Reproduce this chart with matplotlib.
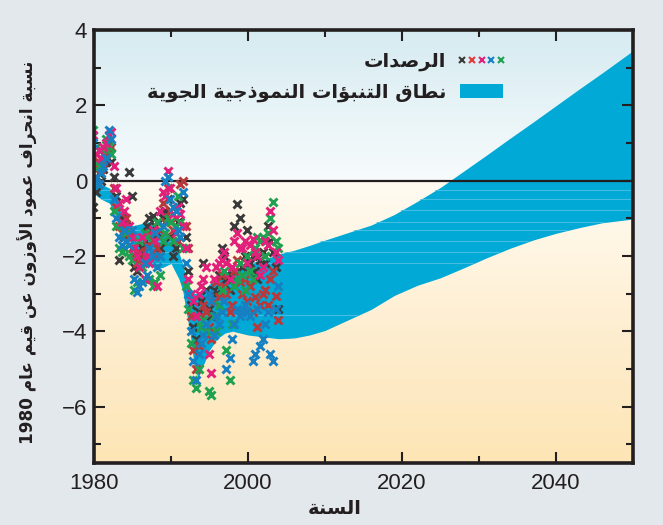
import re
import numpy as np
import matplotlib
matplotlib.use("Agg")
import matplotlib.pyplot as plt
from matplotlib.colors import LinearSegmentedColormap
from matplotlib.lines import Line2D
from matplotlib.patches import Patch
from matplotlib.legend_handler import HandlerTuple
from matplotlib.ticker import MultipleLocator

# text
ylabel_text = "نسبة انحراف عمود الأوزون عن قيم عام 1980"
xlabel_text = "السنة"
obs_label = "الرصدات"
band_label = "نطاق التنبؤات النموذجية الجوية"

# model range
band_years = [1980, 1981, 1982, 1983, 1984, 1985, 1986, 1987, 1988, 1989, 1990, 1991, 1991.5,
              1992, 1992.5, 1993, 1993.5, 1994, 1995, 1996, 1997, 1998, 1999, 2000, 2002, 2004,
              2006, 2008, 2010, 2013, 2016, 2019, 2022, 2025, 2028, 2031, 2034, 2037, 2040,
              2043, 2046, 2050]
band_high = [0.0, -0.1, -0.2, -0.5, -0.9, -1.2, -1.15, -1.1, -1.25, -1.4, -1.5, -1.9, -2.2,
             -2.6, -2.85, -3.0, -3.0, -2.95, -2.75, -2.6, -2.45, -2.35, -2.3, -2.2, -2.1, -1.95,
             -1.85, -1.72, -1.58, -1.38, -1.18, -0.9, -0.55, -0.18, 0.25, 0.68, 1.12, 1.55, 1.99,
             2.43, 2.86, 3.45]
band_low = [-0.35, -0.5, -0.6, -1.0, -1.4, -1.7, -2.0, -2.2, -2.35, -2.3, -2.2, -2.6, -2.9,
            -3.5, -4.1, -4.9, -5.25, -5.0, -4.5, -4.2, -4.05, -4.0, -4.05, -4.1, -4.15, -4.2,
            -4.18, -4.1, -3.98, -3.7, -3.42, -3.05, -2.78, -2.58, -2.32, -2.05, -1.8, -1.58, -1.4,
            -1.25, -1.12, -1.02]

# observations
obs_years = [1979.9, 1980.2, 1980.6, 1980.9, 1981.2, 1981.6, 1981.9, 1982.2, 1982.6, 1982.9,
             1983.2, 1983.6, 1983.9, 1984.2, 1984.6, 1984.9, 1985.2, 1985.6, 1985.9, 1986.2,
             1986.6, 1986.9, 1987.2, 1987.6, 1987.9, 1988.2, 1988.6, 1988.9, 1989.2, 1989.6,
             1989.9, 1990.2, 1990.6, 1990.9, 1991.2, 1991.6, 1991.9, 1992.2, 1992.6, 1992.9,
             1993.2, 1993.6, 1993.9, 1994.2, 1994.6, 1994.9, 1995.2, 1995.6, 1995.9, 1996.2,
             1996.6, 1996.9, 1997.2, 1997.6, 1997.9, 1998.2, 1998.6, 1998.9, 1999.2, 1999.6,
             1999.9, 2000.2, 2000.6, 2000.9, 2001.2, 2001.6, 2001.9, 2002.2, 2002.6, 2002.9,
             2003.2, 2003.6, 2003.9]
obs_black = [-0.7, -0.3, 0.2, 0.0, 0.3, 0.5, 0.8, 0.5, 0.1, -0.4,
             -2.1, -1.0, -1.5, -1.2, 0.24, -0.4, -2.3, -2.4, -2.0, -1.8,
             -1.6, -1.2, -1.0, -0.95, -1.2, -1.4, -1.8, -1.0, -0.8, -0.5,
             -1.5, -2.0, -1.8, -1.1, -0.6, -0.5, -1.5, -2.4, -3.3, -3.9,
             -4.2, -3.5, -3.2, -2.2, -2.9, -3.4, -3.6, -2.9, -3.0, -2.5,
             -1.8, -2.0, -2.6, -2.9, -2.5, -1.2, -0.63, -1.0, -2.3, -2.0,
             -1.3, -2.2, -2.0, -2.4, -2.6, -2.1, -1.9, -2.2, -1.2, -1.6,
             -1.9, -2.3, -3.4]
obs_red = [0.6, 0.3, 0.5, 0.3, 0.5, 0.7, 1.0, 0.9, -0.2, -0.7,
           -1.2, -1.4, -1.2, -1.0, -1.5, -1.8, -2.0, -2.2, -1.9, -2.1,
           -1.9, -1.7, -1.4, -1.6, -2.0, -1.8, -1.3, -0.6, -1.1, -0.2,
           -0.8, -1.3, -1.0, -1.6, -0.1, 0.0, -1.2, -1.8, -3.6, -4.5,
           -5.0, -4.4, -3.6, -3.3, -3.5, -3.9, -4.2, -3.2, -2.7, -3.1,
           -2.5, -2.8, -3.0, -3.5, -3.3, -2.4, -2.1, -2.7, -3.0, -2.6,
           -3.2, -2.8, -3.5, -3.1, -3.9, -3.3, -3.0, -2.9, -3.3, -2.6,
           -2.4, -3.07, -3.7]
obs_magenta = [1.2, 0.7, 0.8, 0.6, 0.9, 1.0, 1.2, 1.3, 0.4, -0.2,
               -0.6, -1.1, -0.8, -0.5, -1.2, -1.5, -1.8, -2.0, -2.3, -1.5,
               -2.6, -2.0, -2.2, -1.3, -1.6, -2.8, -0.8, -0.3, -0.4, 0.25,
               -0.2, -0.9, -1.4, -0.7, -0.9, -1.2, -1.8, -2.6, -3.0, -3.2,
               -3.6, -3.0, -2.8, -2.6, -2.3, -4.6, -5.1, -2.6, -2.3, -2.2,
               -2.1, -1.9, -2.2, -2.6, -2.3, -1.6, -1.4, -1.8, -1.8, -1.6,
               -2.2, -1.7, -1.55, -1.9, -2.0, -2.5, -2.3, -1.6, -1.7, -0.8,
               -1.3, -1.9, -2.1]
obs_blue = [1.0, 0.1, -0.1, 0.2, 0.4, 0.6, 1.35, 1.1, -0.5, -1.0,
            -1.5, -1.7, -1.3, -1.6, -1.7, -1.3, -2.6, -2.95, -2.8, -2.7,
            -2.2, -2.5, -1.8, -2.0, -1.4, -2.3, -2.0, -1.2, 0.0, 0.1,
            -0.5, -0.7, -0.8, -1.3, -1.5, -0.3, -2.2, -3.0, -4.0, -4.8,
            -5.3, -4.6, -4.3, -4.1, -3.8, -3.0, -3.2, -4.1, -3.6, -3.8,
            -3.5, -3.2, -5.0, -4.7, -4.2, -3.8, -3.4, -3.6, -3.5, -3.3,
            -3.5, -3.6, -4.8, -4.6, -3.4, -4.4, -4.2, -3.8, -3.5, -4.6,
            -4.8, -3.4, -2.8]
obs_green = [1.35, 0.9, 0.4, 0.8, 0.7, 1.1, 0.9, 0.7, -0.8, -1.2,
             -1.8, -1.9, -1.8, -1.4, -2.0, -2.1, -2.9, -2.7, -1.6, -2.3,
             -1.4, -1.5, -2.6, -2.8, -2.7, -1.1, -2.5, -1.6, -1.4, -1.0,
             -1.1, -1.6, -1.2, -0.4, -1.1, -1.8, -2.8, -3.4, -4.3, -5.3,
             -5.5, -5.0, -3.9, -3.7, -4.0, -5.6, -5.7, -3.6, -4.0, -3.3,
             -2.9, -2.4, -4.5, -5.3, -3.8, -2.8, -2.6, -2.2, -2.5, -2.9,
             -2.0, -2.4, -2.6, -1.8, -1.5, -1.6, -1.5, -2.0, -1.4, -1.0,
             -0.58, -1.6, -1.8]

# presentation forms: isolated, final, initial, medial
FORMS = {
    'ا': ('\uFE8D', '\uFE8E', None, None),
    'أ': ('\uFE83', '\uFE84', None, None),
    'ؤ': ('\uFE85', '\uFE86', None, None),
    'ب': ('\uFE8F', '\uFE90', '\uFE91', '\uFE92'),
    'ة': ('\uFE93', '\uFE94', None, None),
    'ت': ('\uFE95', '\uFE96', '\uFE97', '\uFE98'),
    'ج': ('\uFE9D', '\uFE9E', '\uFE9F', '\uFEA0'),
    'ح': ('\uFEA1', '\uFEA2', '\uFEA3', '\uFEA4'),
    'د': ('\uFEA9', '\uFEAA', None, None),
    'ذ': ('\uFEAB', '\uFEAC', None, None),
    'ر': ('\uFEAD', '\uFEAE', None, None),
    'ز': ('\uFEAF', '\uFEB0', None, None),
    'س': ('\uFEB1', '\uFEB2', '\uFEB3', '\uFEB4'),
    'ص': ('\uFEB9', '\uFEBA', '\uFEBB', '\uFEBC'),
    'ط': ('\uFEC1', '\uFEC2', '\uFEC3', '\uFEC4'),
    'ع': ('\uFEC9', '\uFECA', '\uFECB', '\uFECC'),
    'ف': ('\uFED1', '\uFED2', '\uFED3', '\uFED4'),
    'ق': ('\uFED5', '\uFED6', '\uFED7', '\uFED8'),
    'ل': ('\uFEDD', '\uFEDE', '\uFEDF', '\uFEE0'),
    'م': ('\uFEE1', '\uFEE2', '\uFEE3', '\uFEE4'),
    'ن': ('\uFEE5', '\uFEE6', '\uFEE7', '\uFEE8'),
    'و': ('\uFEED', '\uFEEE', None, None),
    'ي': ('\uFEF1', '\uFEF2', '\uFEF3', '\uFEF4'),
}
LAM_ALEF = {'ا': ('\uFEFB', '\uFEFC'), 'أ': ('\uFEF7', '\uFEF8')}


def shape(text):
    units = []
    i = 0
    while i < len(text):
        c = text[i]
        if c == 'ل' and i + 1 < len(text) and text[i + 1] in LAM_ALEF:
            units.append(('LA', text[i + 1]))
            i += 2
        else:
            units.append(('C', c))
            i += 1

    def joins_next(u):
        return u is not None and u[0] == 'C' and u[1] in FORMS and FORMS[u[1]][2] is not None

    def is_letter(u):
        return u is not None and (u[0] == 'LA' or u[1] in FORMS)

    out = []
    for k, (kind, c) in enumerate(units):
        prev = units[k - 1] if k > 0 else None
        nxt = units[k + 1] if k + 1 < len(units) else None
        jp = joins_next(prev)
        if kind == 'LA':
            out.append(LAM_ALEF[c][1 if jp else 0])
            continue
        if c not in FORMS:
            out.append(c)
            continue
        iso, fin, ini, med = FORMS[c]
        jn = ini is not None and is_letter(nxt)
        if jp and jn:
            out.append(med)
        elif jp:
            out.append(fin)
        elif jn:
            out.append(ini)
        else:
            out.append(iso)
    s = ''.join(out)[::-1]
    return re.sub(r'[0-9]+', lambda m: m.group(0)[::-1], s)


plt.rcParams['font.family'] = ['Liberation Sans', 'DejaVu Sans']
ar_font = dict(family='DejaVu Sans', weight='bold')

fig = plt.figure(figsize=(6.63, 5.25), dpi=100, facecolor='#e3e8ec')
ax = fig.add_axes([94 / 663, 1 - 463 / 525, 539 / 663, 433 / 525])

ymin, ymax = -7.5, 4
# background gradient, bluish above zero, cream below
z0 = (0 - ymin) / (ymax - ymin)
bg_cmap = LinearSegmentedColormap.from_list('bg', [
    (0.0, '#fde5b5'), (0.3, '#feeed0'), (z0 - 0.004, '#fffbf1'),
    (z0 + 0.004, '#f7fbfc'), (1.0, '#d6ebf1')])
grad = np.linspace(0, 1, 400).reshape(-1, 1)
ax.imshow(grad, cmap=bg_cmap, origin='lower', aspect='auto',
          extent=[1980, 2050, ymin, ymax], zorder=0, interpolation='bilinear')

band_color = '#00a9d6'
band = ax.fill_between(band_years, band_low, band_high, color=band_color, lw=0, zorder=1)
band_path = band.get_paths()[0]
for yl in [-0.24, -0.48, -0.77, -1.1, -1.32, -1.6, -1.89, -2.18, -3.58]:
    ln = ax.axhline(yl, color='#45bde2', lw=0.8, zorder=1.2)
    ln.set_clip_path(band_path, ax.transData)

ax.axhline(0, color='#231f20', lw=1.6, zorder=2)

obs_colors = ['#3a3a3a', '#b8393c', '#1ea150', '#e0207a', '#1780c2']
obs_series = [obs_black, obs_red, obs_green, obs_magenta, obs_blue]
for vals, col in zip(obs_series, obs_colors):
    ax.plot(obs_years, vals, ls='none', marker='x', ms=6, mew=2.1, color=col, zorder=3)

ax.set_xlim(1980, 2050)
ax.set_ylim(ymin, ymax)
ax.xaxis.set_major_locator(MultipleLocator(20))
ax.xaxis.set_minor_locator(MultipleLocator(10))
ax.yaxis.set_major_locator(MultipleLocator(2))
ax.yaxis.set_minor_locator(MultipleLocator(1))
ax.tick_params(which='both', direction='in', top=True, right=True, color='#231f20',
               labelsize=16, labelcolor='#231f20')
ax.tick_params(which='major', length=8, width=1.5)
ax.tick_params(which='minor', length=5, width=1.5)
ax.tick_params(axis='x', pad=7)
ax.tick_params(axis='y', pad=5)
for sp in ax.spines.values():
    sp.set_linewidth(2.6)
    sp.set_color('#231f20')
    sp.set_zorder(5)

# legend, markers to the right of the text
leg_marks = tuple(Line2D([], [], ls='none', marker='x', ms=4, mew=1.5, color=c)
                  for c in ['#3a3a3a', '#e23a3a', '#e0207a', '#1780c2', '#1ea150'])
leg_patch = Patch(facecolor=band_color, edgecolor='none')
ax.legend([leg_marks, leg_patch], [shape(obs_label), shape(band_label)],
          handler_map={tuple: HandlerTuple(ndivide=None, pad=0.3)},
          markerfirst=False, frameon=False, loc='upper right',
          bbox_to_anchor=((503 - 94) / 539, (463 - 52) / 433),
          prop=dict(family='DejaVu Sans', weight='bold', size=14),
          handlelength=2.2, handleheight=0.75, handletextpad=0.7,
          labelspacing=0.6, borderpad=0, borderaxespad=0, labelcolor='#231f20')

fig.text(28 / 663, 1 - 252 / 525, shape(ylabel_text), rotation=90, ha='center', va='center',
         size=12.2, color='#231f20', **ar_font)
fig.text(335 / 663, 1 - 508 / 525, shape(xlabel_text), ha='center', va='center',
         size=14, color='#231f20', **ar_font)

fig.savefig('out.png', dpi=100, facecolor=fig.get_facecolor())
